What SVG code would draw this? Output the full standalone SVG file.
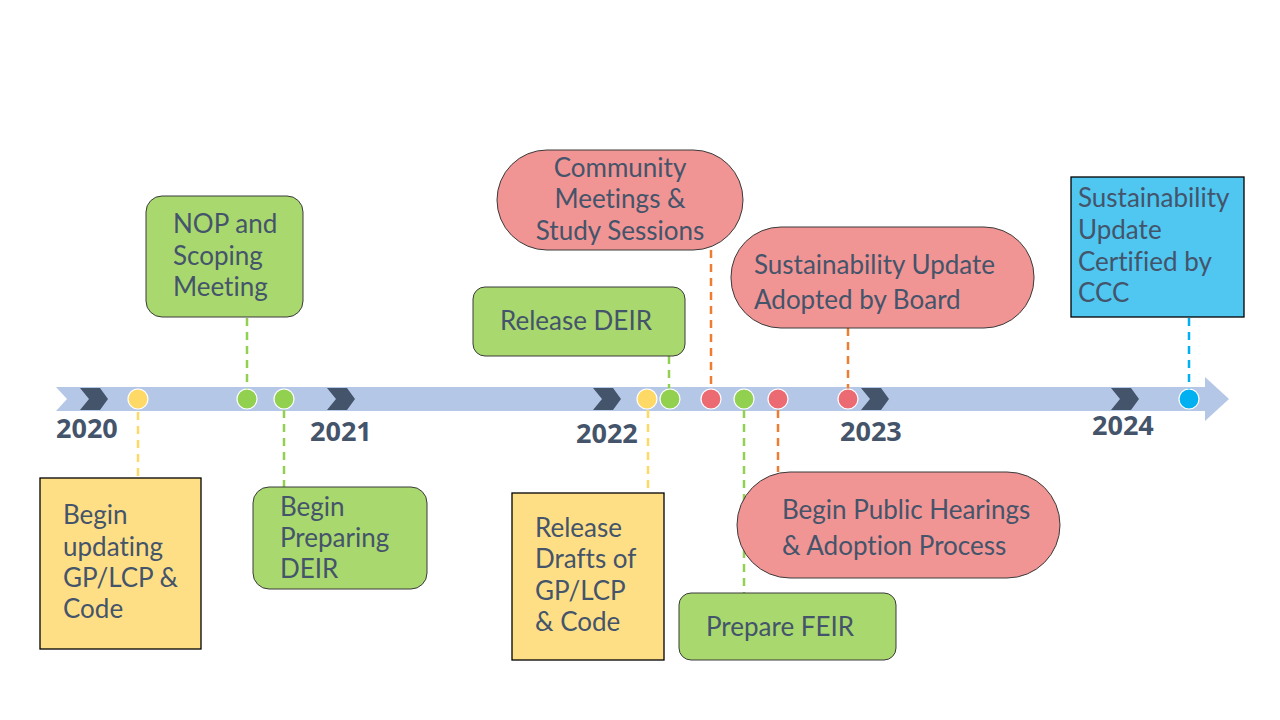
<svg xmlns="http://www.w3.org/2000/svg" width="1280" height="720" viewBox="0 0 1280 720">
<style>
.t{font-family:Lato,"Liberation Sans",sans-serif;font-size:26px;fill:#44546A;font-variant-ligatures:none}
.yr{font-family:"Open Sans","Liberation Sans",sans-serif;font-size:27px;font-weight:bold;fill:#44546A}
.yel{fill:#FFDF86;stroke:#000;stroke-width:1.3}
.grn{fill:#A9D86E;stroke:#3A3A3A;stroke-width:1}
.red{fill:#F19594;stroke:#3A3A3A;stroke-width:1}
.blu{fill:#4FC7F1;stroke:#000;stroke-width:1.3}
.dot{stroke:#fff;stroke-width:1.2}
.dash{stroke-width:2.5;stroke-dasharray:8 6;fill:none}
.chev{fill:#44546A}
</style>
<rect width="1280" height="720" fill="#fff"/>
<g id="timeline">
<path d="M56,387 L1205,387 L1205,377 L1229,399 L1205,421 L1205,411 L56,411 L67,399 Z" fill="#B4C7E7"/>
<path class="chev" d="M80,388 L100,388 L108,399 L100,410 L80,410 L89,399 Z"/>
<path class="chev" d="M327,388 L347,388 L355,399 L347,410 L327,410 L336,399 Z"/>
<path class="chev" d="M593,388 L613,388 L621,399 L613,410 L593,410 L602,399 Z"/>
<path class="chev" d="M861,388 L881,388 L889,399 L881,410 L861,410 L870,399 Z"/>
<path class="chev" d="M1111,388 L1131,388 L1139,399 L1131,410 L1111,410 L1120,399 Z"/>
<text class="yr" x="56" y="438">2020</text>
<text class="yr" x="310" y="441">2021</text>
<text class="yr" x="576" y="443">2022</text>
<text class="yr" x="840" y="441">2023</text>
<text class="yr" x="1092" y="435">2024</text>
</g>
<g id="connectors">
<line class="dash" x1="138" y1="412" x2="138" y2="477" stroke="#FFD966"/>
<line class="dash" x1="247" y1="318" x2="247" y2="389" stroke="#92D050"/>
<line class="dash" x1="284" y1="410" x2="284" y2="487" stroke="#92D050"/>
<line class="dash" x1="648" y1="410" x2="648" y2="492" stroke="#FFD966"/>
<line class="dash" x1="669" y1="356" x2="669" y2="389" stroke="#92D050" stroke-dasharray="none"/>
<line class="dash" x1="711" y1="250" x2="711" y2="389" stroke="#ED7D31"/>
<line class="dash" x1="744" y1="410" x2="744" y2="593" stroke="#92D050"/>
<line class="dash" x1="778" y1="410" x2="778" y2="472" stroke="#ED7D31"/>
<line class="dash" x1="848" y1="328" x2="848" y2="389" stroke="#ED7D31"/>
<line class="dash" x1="1189" y1="318" x2="1189" y2="389" stroke="#00B0F0"/>
</g>
<g id="dots">
<circle class="dot" cx="138" cy="399" r="10" fill="#FFD966"/>
<circle class="dot" cx="247" cy="399" r="10" fill="#92D050"/>
<circle class="dot" cx="284" cy="399" r="10" fill="#92D050"/>
<circle class="dot" cx="647" cy="399" r="10" fill="#FFD966"/>
<circle class="dot" cx="670" cy="399" r="10" fill="#92D050"/>
<circle class="dot" cx="711" cy="399" r="10" fill="#EC6B72"/>
<circle class="dot" cx="744" cy="399" r="10" fill="#92D050"/>
<circle class="dot" cx="778" cy="399" r="10" fill="#EC6B72"/>
<circle class="dot" cx="848" cy="399" r="10" fill="#EC6B72"/>
<circle class="dot" cx="1189" cy="399" r="10" fill="#00B0F0"/>
</g>
<g id="n1">
<rect class="yel" x="40" y="478" width="161" height="171"/>
<text class="t"><tspan x="63" y="524">Begin</tspan><tspan x="63" y="556">updating</tspan><tspan x="63" y="587">GP/LCP &amp;</tspan><tspan x="63" y="618">Code</tspan></text>
</g>
<g id="n2">
<rect class="grn" x="146" y="196" width="157" height="121" rx="16"/>
<text class="t"><tspan x="173" y="233">NOP and</tspan><tspan x="173" y="265">Scoping</tspan><tspan x="173" y="296">Meeting</tspan></text>
</g>
<g id="n3">
<rect class="grn" x="253" y="487" width="174" height="102" rx="16"/>
<text class="t"><tspan x="280" y="516">Begin</tspan><tspan x="280" y="547">Preparing</tspan><tspan x="280" y="578">DEIR</tspan></text>
</g>
<g id="n4">
<rect class="grn" x="473" y="287" width="212" height="69" rx="12"/>
<text class="t" x="500" y="330">Release DEIR</text>
</g>
<g id="n5">
<rect class="red" x="497" y="150" width="246" height="100" rx="50"/>
<text class="t" text-anchor="middle"><tspan x="620" y="177">Community</tspan><tspan x="620" y="208">Meetings &amp;</tspan><tspan x="620" y="240">Study Sessions</tspan></text>
</g>
<g id="n6">
<rect class="red" x="731" y="227" width="303" height="101" rx="50"/>
<text class="t"><tspan x="754" y="274">Sustainability Update</tspan><tspan x="754" y="309">Adopted by Board</tspan></text>
</g>
<g id="n7">
<rect class="blu" x="1071" y="177" width="173" height="140"/>
<text class="t"><tspan x="1078" y="207">Sustainability</tspan><tspan x="1078" y="239">Update</tspan><tspan x="1078" y="271">Certified by</tspan><tspan x="1078" y="302">CCC</tspan></text>
</g>
<g id="n8">
<rect class="yel" x="512" y="493" width="152" height="167"/>
<text class="t"><tspan x="535" y="537">Release</tspan><tspan x="535" y="568">Drafts of</tspan><tspan x="535" y="600">GP/LCP</tspan><tspan x="535" y="631">&amp; Code</tspan></text>
</g>
<g id="n9">
<rect class="red" x="737" y="472" width="323" height="106" rx="53"/>
<text class="t"><tspan x="782" y="519">Begin Public Hearings</tspan><tspan x="782" y="555">&amp; Adoption Process</tspan></text>
</g>
<g id="n10">
<rect class="grn" x="679" y="593" width="217" height="67" rx="12"/>
<text class="t" x="706" y="636">Prepare FEIR</text>
</g>
</svg>
